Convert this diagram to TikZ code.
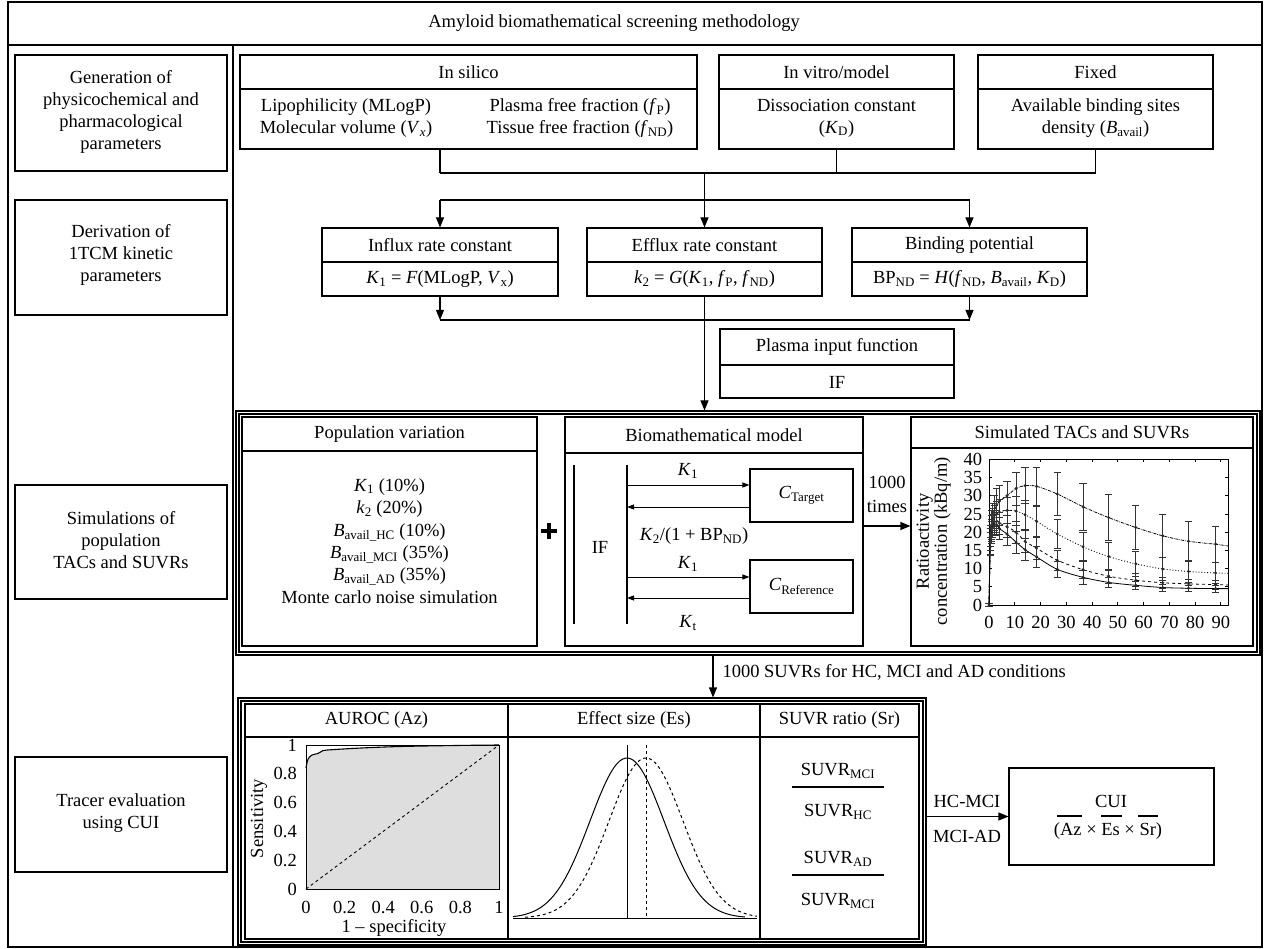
\documentclass[tikz,border=0pt]{standalone}
\usepackage{fontspec}
\setmainfont{Liberation Serif}
\usetikzlibrary{arrows.meta,fit}
\newcommand{\fs}{\fontsize{18.5}{22}\selectfont}
\newcommand{\sbs}[1]{\textsubscript{#1}}
\newcommand{\iv}[1]{\textit{#1}}
\begin{document}
\begin{tikzpicture}[x=1pt,y=-1pt,line width=1.1pt,
  every node/.style={font=\fs, inner sep=0pt},
  box/.style={draw, inner sep=0pt, rectangle},
  lbl/.style={align=center, inner sep=0pt},
  arr/.style={-{Triangle[length=10pt,width=8pt]}},
  sarr/.style={-{Triangle[length=7pt,width=5pt]}, line width=0.9pt},
  ebar/.style={line width=0.75pt, black!80}]
\useasboundingbox (0,0) rectangle (1264,949);
% main frame
\node[box, fit={(8,2) (1262,947)}] (frame) {};
\draw (8,45) -- (1262,45);
\draw (233,45) -- (233,947);
\node (title) at (614,23) {Amyloid biomathematical screening methodology};
% left column
\node[box, fit={(15,55) (227,171)}] (gen) {};
\node[lbl] (gent) at (121,112) {Generation of\\physicochemical and\\pharmacological\\parameters};
\node[box, fit={(15,200) (227,315)}] (der) {};
\node[lbl] (dert) at (121,255) {Derivation of\\1TCM kinetic\\parameters};
\node[box, fit={(15,485) (227,599)}] (simu) {};
\node[lbl] (simut) at (121,540) {Simulations of\\population\\TACs and SUVRs};
\node[box, fit={(15,757) (227,872)}] (tra) {};
\node[lbl] (trat) at (121,813) {Tracer evaluation\\using CUI};
% top row
\node[box, fit={(240,55) (697,149)}] (silico) {};
\draw (240,89) -- (697,89);
\node (silicoh) at (468.5,72) {In silico};
\node[lbl] (silicoa) at (346,118) {Lipophilicity (MLogP)\\Molecular volume (\iv{V}\sbs{\iv{x}})};
\node[lbl] (silicob) at (580,118) {Plasma free fraction (\iv{f}\sbs{P})\\Tissue free fraction (\iv{f}\sbs{ND})};
\node[box, fit={(719,55) (954,149)}] (vitro) {};
\draw (719,89) -- (954,89);
\node (vitroh) at (836.5,72) {In vitro/model};
\node[lbl] (vitroa) at (836.5,118) {Dissociation constant\\(\iv{K}\sbs{D})};
\node[box, fit={(978,55) (1213,149)}] (fixed) {};
\draw (978,89) -- (1213,89);
\node (fixedh) at (1095.5,72) {Fixed};
\node[lbl] (fixeda) at (1095.5,118) {Available binding sites\\density (\iv{B}\sbs{avail})};
% second row
\node[box, fit={(322,228) (558,296)}] (inf) {};
\draw (322,262) -- (558,262);
\node (infh) at (440,245) {Influx rate constant};
\node (infa) at (440,279) {\iv{K}\sbs{1} = \iv{F}(MLogP, \iv{V}\sbs{x})};
\node[box, fit={(587,228) (822,296)}] (eff) {};
\draw (587,262) -- (822,262);
\node (effh) at (704.5,245) {Efflux rate constant};
\node (effa) at (704.5,279) {\iv{k}\sbs{2} = \iv{G}(\iv{K}\sbs{1}, \iv{f}\sbs{P}, \iv{f}\sbs{ND})};
\node[box, fit={(852,228) (1087,296)}] (bind) {};
\draw (852,262) -- (1087,262);
\node (bindh) at (969.5,245) {Binding potential};
\node (binda) at (969.5,279) {BP\sbs{ND} = \iv{H}(\iv{f}\sbs{ND}, \iv{B}\sbs{avail}, \iv{K}\sbs{D})};
% connectors top
\coordinate (j1) at (440,173);
\coordinate (j0) at (704.5,173);
\draw (silico.south -| j1) -- (j1);
\draw (vitro.south) -- (vitro.south |- j1);
\draw (fixed.south) -- (fixed.south |- j1);
\draw (j1) -- (fixed.south |- j1);
\draw[arr] (j0) -- (eff.north);
\coordinate (k1) at (440,200);
\coordinate (k2) at (969.5,200);
\draw (k1) -- (k2);
\draw[arr] (k1) -- (inf.north);
\draw[arr] (k2) -- (bind.north);
\coordinate (m1) at (440,320);
\coordinate (m2) at (969.5,320);
\draw[arr] (inf.south) -- (m1);
\draw[arr] (bind.south) -- (m2);
\draw (m1) -- (m2);
% plasma
\node[box, fit={(720,329) (954,398)}] (plasma) {};
\draw (720,365) -- (954,365);
\node (plasmah) at (837,347) {Plasma input function};
\node (plasmaa) at (837,382) {IF};
% middle frame
\node[box, fit={(236,411) (1260,655)}] (midframe) {};
\draw (239,414) rectangle (1257,652);
\draw[arr] (eff.south) -- (eff.south |- midframe.north);
% population
\node[box, fit={(242,417) (537,646)}] (pop) {};
\draw (242,451) -- (537,451);
\node (poph) at (389.5,434) {Population variation};
\node[lbl, font=\fontsize{18.5}{22.4}\selectfont] (popa) at (389.5,541) {\iv{K}\sbs{1} (10\%)\\\iv{k}\sbs{2} (20\%)\\\iv{B}\sbs{avail\_HC} (10\%)\\\iv{B}\sbs{avail\_MCI} (35\%)\\\iv{B}\sbs{avail\_AD} (35\%)\\Monte carlo noise simulation};
\draw[line width=4.5pt] (541,531) -- (557,531) (549,523) -- (549,539);
% biomath
\node[box, fit={(565,417) (863,646)}] (biom) {};
\draw (565,453) -- (863,453);
\node (biomh) at (714,435) {Biomathematical model};
\draw (574,465) -- (574,624);
\draw (627,465) -- (627,624);
\node (ift) at (600,547) {IF};
\node[box, fit={(750,469) (853,522)}] (tgt) {};
\node (tgtt) at (tgt.center) {\iv{C}\sbs{Target}};
\node[box, fit={(750,560) (853,613)}] (refb) {};
\node (refbt) at (refb.center) {\iv{C}\sbs{Reference}};
\coordinate (a1) at (627,485);
\coordinate (a2) at (627,507);
\coordinate (a3) at (627,577);
\coordinate (a4) at (627,598);
\draw[sarr] (a1) -- (a1 -| tgt.west);
\draw[sarr] (a2 -| tgt.west) -- (a2);
\draw[sarr] (a3) -- (a3 -| refb.west);
\draw[sarr] (a4 -| refb.west) -- (a4);
\node (l1) at (688,471) {\iv{K}\sbs{1}};
\node (l2) at (694,536) {\iv{K}\sbs{2}/(1 + BP\sbs{ND})};
\node (l3) at (688,564) {\iv{K}\sbs{1}};
\node (l4) at (688,623) {\iv{K}\sbs{t}};
\node[lbl, font=\fontsize{18.5}{24}\selectfont] (times) at (887,494) {1000\\times};
\coordinate (b1) at (863,526);
% simulated TACs
\node[box, fit={(911,417) (1253,646)}] (simb) {};
\draw (911,448) -- (1253,448);
\node (simbh) at (1082,432) {Simulated TACs and SUVRs};
\draw[arr] (b1) -- (b1 -| simb.west);
\begin{scope}[shift={(989,605)}, x=2.575pt, y=3.64pt, line width=0.7pt]
  \draw (0,0) rectangle (93,40);
  \foreach \ta in {10,20,...,90} { \draw (\ta,0) -- (\ta,0.8); \draw (\ta,40) -- (\ta,39.2); }
  \foreach \va in {5,10,...,35} { \draw (0,\va) -- (1.2,\va); \draw (93,\va) -- (91.8,\va); }
  \foreach \ta in {0,10,...,90} \node at (\ta,-4.9) {\ta};
  \foreach \va in {0,5,...,40} \node[anchor=east] at (-2.5,\va) {\va};
  \node[rotate=90, align=center, font=\fontsize{18.5}{18}\selectfont] at (-21.5,17.5) {Ratioactivity\\concentration (kBq/m)};
  \draw[densely dashdotted, line width=0.8pt] plot[smooth, tension=0.5] coordinates {(0,0) (0.5,19) (1,22) (1.5,24) (2,25.5) (3,27.5) (4,28.5) (7,30) (10.5,32) (14,32.8) (18.5,32.6) (26.5,30.5) (36.5,27) (46.5,24) (57,21.3) (67.5,19) (77.5,17.5) (88,16.7) (93,16.2)};
  \draw[dotted, line width=0.9pt] plot[smooth, tension=0.5] coordinates {(0,0) (0.5,18) (1,21) (1.5,23) (2,24) (3,25) (4,25.5) (7,26) (10.5,25.8) (14,24.8) (18.5,23) (26.5,19.5) (36.5,16) (46.5,13.3) (57,11.3) (67.5,9.9) (77.5,9.2) (88,8.8) (93,8.7)};
  \draw[dashed, line width=0.8pt] plot[smooth, tension=0.5] coordinates {(0,0) (0.5,17) (1,20.5) (1.5,22) (2,22.5) (3,23) (4,22.5) (7,21.5) (10.5,20) (14,17.5) (18.5,15.6) (26.5,12.3) (36.5,9.7) (46.5,7.9) (57,6.8) (67.5,6.1) (77.5,5.8) (88,5.6) (93,5.5)};
  \draw[line width=0.8pt] plot[smooth, tension=0.5] coordinates {(0,0) (0.5,16) (1,20) (1.5,21.5) (2,22) (3,22) (4,21) (7,19.5) (10.5,17.3) (14,15.2) (18.5,13.2) (26.5,9.8) (36.5,7.6) (46.5,6.2) (57,5.4) (67.5,4.8) (77.5,4.6) (88,4.5) (93,4.5)};
  \foreach \ta/\va/\ea in {0/0/0.5, 0.5/19/3, 1/22/4, 1.5/24/4, 2/25.5/4.5, 3/27.5/4.5, 4/28.5/4.5, 7/30/4, 10.5/32/4.5, 14/32.8/5, 18.5/32.6/5.3, 26.5/30.5/6, 36.5/27/6.5, 46.5/24/6.3, 57/21.3/6, 67.5/19/6, 77.5/17.5/5.6, 88/16.7/5,
      0.5/18/3, 1/21/3.5, 1.5/23/3.5, 2/24/3.5, 3/25/3.5, 4/25.5/3.5, 7/26/3.5, 10.5/25.8/4, 14/24.8/4, 18.5/23/4.2, 26.5/19.5/4, 36.5/16/4, 46.5/13.3/3.8, 57/11.3/3.5, 67.5/9.9/3.2, 77.5/9.2/3, 88/8.8/2.8,
      0.5/17/3, 1/20.5/3, 1.5/22/3, 2/22.5/3, 3/23/3, 4/22.5/3, 7/21.5/3, 10.5/20/3, 14/17.5/3, 18.5/15.6/3, 26.5/12.3/2.8, 36.5/9.7/2.5, 46.5/7.9/2, 57/6.8/1.8, 67.5/6.1/1.5, 77.5/5.8/1.3, 88/5.6/1.2,
      0.5/16/2.5, 1/20/3, 1.5/21.5/3, 2/22/3, 3/22/3, 4/21/3, 7/19.5/3, 10.5/17.3/3, 14/15.2/3, 18.5/13.2/3, 26.5/9.8/2.2, 36.5/7.6/1.8, 46.5/6.2/1.4, 57/5.4/1.2, 67.5/4.8/1, 77.5/4.6/0.9, 88/4.5/0.9} {
    \draw[ebar] (\ta,{\va-\ea}) -- (\ta,{\va+\ea});
    \draw[ebar] ({\ta-1.4},{\va-\ea}) -- ({\ta+1.4},{\va-\ea});
    \draw[ebar] ({\ta-1.4},{\va+\ea}) -- ({\ta+1.4},{\va+\ea});
    \fill[black!85] (\ta,\va) circle (1.6pt);
  }
\end{scope}
% bottom
\node[box, fit={(238,698) (926,945)}] (botframe) {};
\draw (241,701) rectangle (923,942);
\coordinate (c1) at (713,655);
\draw[arr] (c1) -- (c1 |- botframe.north);
\node[anchor=west] (suvrs) at (722,672) {1000 SUVRs for HC, MCI and AD conditions};
\node[box, fit={(245,704) (919,939)}] (tab) {};
\draw (245,737) -- (919,737);
\draw (508,704) -- (508,939);
\draw (760,704) -- (760,939);
\node (auh) at (376.5,720) {AUROC (Az)};
\node (esh) at (634,720) {Effect size (Es)};
\node (srh) at (839.5,720) {SUVR ratio (Sr)};
% ROC
\begin{scope}[shift={(306,889)}, x=193pt, y=144pt]
  \fill[black!13] (0,0) -- plot[smooth, tension=0.5] coordinates {(0,0.84) (0.01,0.9) (0.03,0.93) (0.06,0.94) (0.08,0.955) (0.11,0.965) (0.3,0.98) (0.5,0.99) (0.8,0.997) (1,1)} -- (1,0) -- cycle;
  \draw[line width=1.1pt] plot[smooth, tension=0.5] coordinates {(0,0.84) (0.01,0.9) (0.03,0.93) (0.06,0.94) (0.08,0.955) (0.11,0.965) (0.3,0.98) (0.5,0.99) (0.8,0.997) (1,1)};
  \draw[line width=1pt] (0,0) rectangle (1,1);
  \draw[dashed, line width=0.9pt] (0,0) -- (1,1);
  \foreach \rr in {0,0.2,0.4,0.6,0.8,1} \node[anchor=east] at (-0.045,\rr) {\rr};
  \foreach \ss in {0,0.2,0.4,0.6,0.8,1} \node at (\ss,-0.125) {\ss};
  \node at (0.456,-0.27) {1 – specificity};
  \node[rotate=90] at (-0.243,0.49) {Sensitivity};
\end{scope}
% effect size
\draw[line width=1pt] (513,918) -- (757,918);
\draw[line width=1pt] plot[domain=513:745, samples=90, smooth] (\x,{918-160*exp(-0.5*((\x-627)/37)^2)});
\draw[dashed, line width=1pt] plot[domain=525:757, samples=90, smooth] (\x,{918-160*exp(-0.5*((\x-646)/37)^2)});
\draw[line width=1pt] (627,745) -- (627,918);
\draw[dashed, line width=1pt] (646,745) -- (646,918);
% SUVR ratio
\node (s1) at (838,771) {SUVR\sbs{MCI}};
\draw (792,787) -- (884,787);
\node (s2) at (838,812) {SUVR\sbs{HC}};
\node (s3) at (838,859) {SUVR\sbs{AD}};
\draw (792,875) -- (884,875);
\node (s4) at (838,901) {SUVR\sbs{MCI}};
% CUI
\node[box, fit={(1009,768) (1214,865)}] (cui) {};
\draw[arr] (botframe.east |- cui.west) -- (cui.west);
\node (hcmci) at (967,801) {HC-MCI};
\node (mciad) at (967,836) {MCI-AD};
\node (cuit) at (1111,801) {CUI};
\node (cuib) at (1108,831) {(Az × Es × Sr)};
\draw (1057,816) -- (1082,816);
\draw (1101,816) -- (1122,816);
\draw (1138,816) -- (1158,816);
\end{tikzpicture}
\end{document}
